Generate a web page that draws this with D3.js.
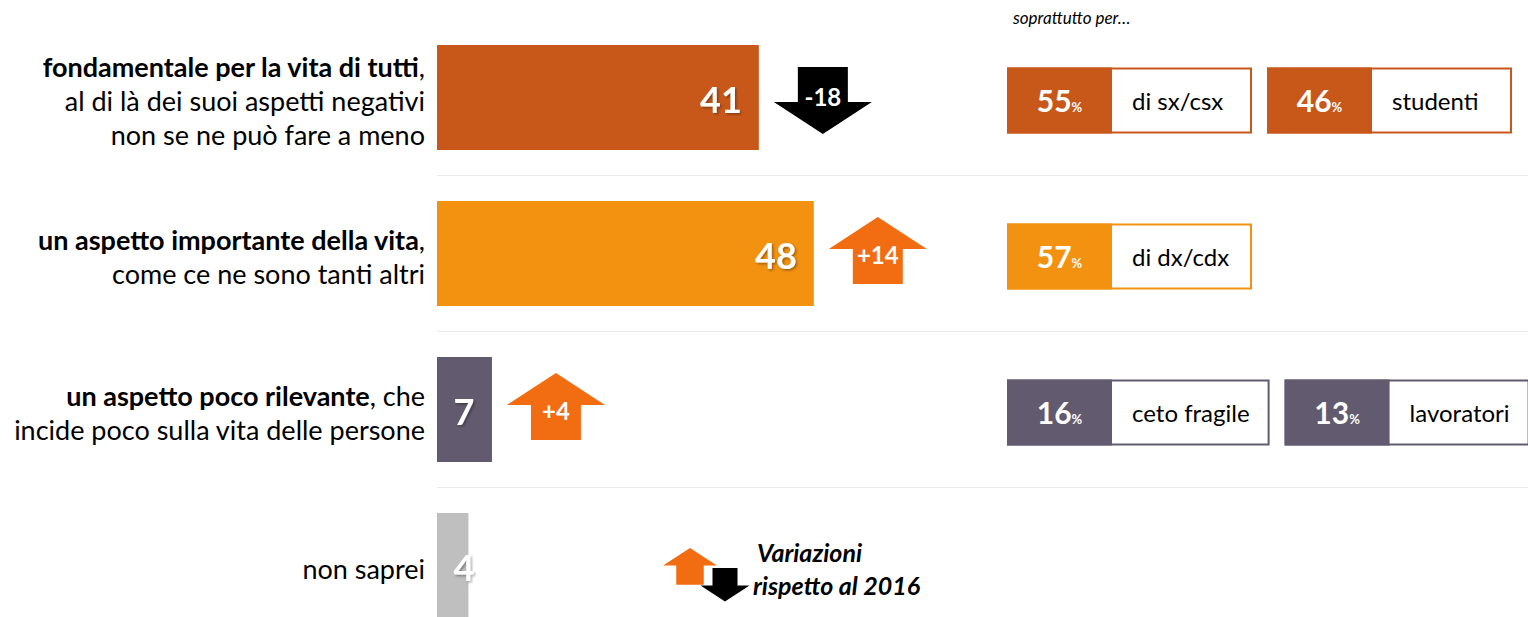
<!DOCTYPE html>
<html>
<head>
<meta charset="utf-8">
<script src="https://cdn.jsdelivr.net/npm/d3@7"></script>
<style>
  body { margin: 0; background: #fff; }
  svg { display: block; font-family: Lato, "Open Sans", sans-serif; }
</style>
</head>
<body>
<div id="viz"></div>
<script>
// categories, first line has a bold part
var categories = ['fondamentale', 'importante', 'poco rilevante', 'non saprei'];
var labelBold = ['fondamentale per la vita di tutti', 'un aspetto importante della vita', 'un aspetto poco rilevante', ''];
var labelLines = [
	[',', 'al di là dei suoi aspetti negativi', 'non se ne può fare a meno'],
	[',', 'come ce ne sono tanti altri'],
	[', che', 'incide poco sulla vita delle persone'],
	['non saprei']
];
var values = [41, 48, 7, 4];
var changes = [-18, 14, 4, null];
var groupPct = [[55, 46], [57], [16, 13], []];
var groupLabel = [['di sx/csx', 'studenti'], ['di dx/cdx'], ['ceto fragile', 'lavoratori'], []];

var barColor = d3.scaleOrdinal()
	.domain(categories)
	.range(['#C8581A', '#F39111', '#625A6E', '#BFBFBF']);

var upColor = '#F26C12',
		downColor = '#000000';

buildViz();

function buildViz(){

	var width = 1528,
			height = 617;

	var svg = d3.select('#viz')
		.append('svg')
		.attr('width', width)
		.attr('height', height);

	var defs = svg.append('defs');
	defs.append('filter')
		.attr('id', 'shadow')
		.attr('x', '-20%').attr('y', '-20%').attr('width', '140%').attr('height', '140%')
		.append('feDropShadow')
			.attr('dx', 1.5).attr('dy', 1.5)
			.attr('stdDeviation', 1)
			.attr('flood-color', '#000')
			.attr('flood-opacity', 0.35);

	var x = d3.scaleLinear()
		.domain([0, 100])
		.range([437, 437 + 785]);

	var y = d3.scaleBand()
		.domain(categories)
		.range([45, 618])
		.paddingInner(51 / 156);

	var bw = y.bandwidth(),
			gap = y.step() - bw;

	var rows = categories.map(function(c, i){
		return { cat: c, value: values[i], change: changes[i], bold: labelBold[i], lines: labelLines[i],
			pct: groupPct[i], sub: groupLabel[i] };
	});

	// separators
	svg.selectAll('.sep')
		.data(categories.slice(0, -1))
		.enter().append('line')
			.attr('x1', x(0))
			.attr('x2', width)
			.attr('y1', function(d){ return y(d) + bw + gap / 2; })
			.attr('y2', function(d){ return y(d) + bw + gap / 2; })
			.style('stroke', '#EBEBEB')
			.style('stroke-width', 1);

	// left labels
	var lineH = 34;
	var labels = svg.selectAll('.row-label')
		.data(rows)
		.enter().append('text')
			.attr('class', 'row-label')
			.attr('text-anchor', 'end')
			.style('font-size', '27px')
			.style('fill', '#000');

	labels.each(function(d){
		var t = d3.select(this);
		var n = d.lines.length;
		var cy = y(d.cat) + bw / 2 + 4;
		var first = cy - (n - 1) / 2 * lineH + 9;
		d.lines.forEach(function(line, j){
			var ts = t.append('tspan')
				.attr('x', 425)
				.attr('y', first + j * lineH);
			if (j === 0 && d.bold) {
				ts.append('tspan').style('font-weight', 'bold').text(d.bold);
				ts.append('tspan').text(line);
			} else {
				ts.text(line);
			}
		});
	});

	// bars
	svg.selectAll('.bar')
		.data(rows)
		.enter().append('rect')
			.attr('class', 'bar')
			.attr('x', x(0))
			.attr('y', function(d){ return y(d.cat); })
			.attr('width', function(d){ return x(d.value) - x(0); })
			.attr('height', bw)
			.style('fill', function(d){ return barColor(d.cat); });

	svg.selectAll('.bar-label')
		.data(rows)
		.enter().append('text')
			.attr('class', 'bar-label')
			.attr('x', function(d){ return x(d.value) - x(0) > 80 ? x(d.value) - 17 : x(0) + 27; })
			.attr('y', function(d){ return y(d.cat) + bw / 2 + 15; })
			.attr('text-anchor', function(d){ return x(d.value) - x(0) > 80 ? 'end' : 'middle'; })
			.attr('filter', 'url(#shadow)')
			.style('font-size', '36px')
			.style('font-weight', 'bold')
			.style('fill', '#fff')
			.text(function(d){ return d.value; });

	// change arrows
	var withChange = rows.filter(function(d){ return d.change !== null; });

	var arrows = svg.selectAll('.arrow')
		.data(withChange)
		.enter().append('g')
			.attr('class', 'arrow')
			.attr('transform', function(d){
				var cx = x(d.value) + 64;
				var top = y(d.cat) + bw / 2 - 33.5 + (d.change < 0 ? 3 : -3);
				return 'translate(' + cx + ',' + top + ')';
			});

	arrows.append('path')
		.attr('d', function(d){ return d.change < 0 ? arrowDown(1) : arrowUp(1); })
		.style('fill', function(d){ return d.change < 0 ? downColor : upColor; });

	arrows.append('text')
		.attr('x', 0)
		.attr('y', function(d){ return d.change < 0 ? 39 : 47; })
		.attr('text-anchor', 'middle')
		.style('font-size', '24px')
		.style('font-weight', 'bold')
		.style('fill', '#fff')
		.text(function(d){ return d.change > 0 ? '+' + d.change : d.change; });

	// "soprattutto per..." boxes
	svg.append('text')
		.attr('x', 1013)
		.attr('y', 24)
		.style('font-size', '17px')
		.style('font-style', 'italic')
		.style('fill', '#000')
		.text('soprattutto per…');

	rows.forEach(function(d){
		var bx = 1007;
		var cy = y(d.cat) + bw / 2 + 3;
		d.pct.forEach(function(p, k){
			var g = svg.append('g')
				.attr('class', 'box')
				.attr('transform', 'translate(' + bx + ',' + (cy - 33) + ')');
			var colW = 105;
			var label = g.append('text')
				.attr('x', colW + 20)
				.attr('y', 42)
				.style('font-size', '24px')
				.style('fill', '#000')
				.text(d.sub[k]);
			var whiteW = Math.max(140, label.node().getComputedTextLength() + 40);
			g.insert('rect', 'text')
				.attr('x', 1)
				.attr('y', 1)
				.attr('width', colW + whiteW - 2)
				.attr('height', 64)
				.style('fill', '#fff')
				.style('stroke', barColor(d.cat))
				.style('stroke-width', 2);
			g.insert('rect', 'text')
				.attr('x', 0)
				.attr('y', 0)
				.attr('width', colW)
				.attr('height', 66)
				.style('fill', barColor(d.cat));
			var pt = g.append('text')
				.attr('x', colW / 2)
				.attr('y', 44)
				.attr('text-anchor', 'middle')
				.style('fill', '#fff')
				.style('font-weight', 'bold');
			pt.append('tspan').style('font-size', '30px').text(p);
			pt.append('tspan').style('font-size', '13px').text('%');
			bx += colW + whiteW + 15;
		});
	});

	// legend
	var legend = svg.append('g')
		.attr('transform', 'translate(0,0)');

	legend.append('path')
		.attr('transform', 'translate(690,548)')
		.attr('d', arrowUp(0.55))
		.style('fill', upColor);

	legend.append('path')
		.attr('transform', 'translate(725,568)')
		.attr('d', arrowDown(0.5))
		.style('fill', downColor);

	legend.append('text')
		.attr('x', 757)
		.attr('y', 562)
		.style('font-size', '25px')
		.style('font-weight', 'bold')
		.style('font-style', 'italic')
		.text('Variazioni');

	legend.append('text')
		.attr('x', 753)
		.attr('y', 595)
		.style('font-size', '25px')
		.style('font-weight', 'bold')
		.style('font-style', 'italic')
		.text('rispetto al 2016');
}

// block arrows, origin at top centre
function arrowUp(s){
	var hw = 49 * s, sw = 25 * s, hh = 32 * s, h = 67 * s;
	return 'M0,0 L' + hw + ',' + hh + ' L' + sw + ',' + hh + ' L' + sw + ',' + h +
		' L' + (-sw) + ',' + h + ' L' + (-sw) + ',' + hh + ' L' + (-hw) + ',' + hh + ' Z';
}

function arrowDown(s){
	var hw = 49 * s, sw = 25 * s, hh = 35 * s, h = 67 * s;
	return 'M' + (-sw) + ',0 L' + sw + ',0 L' + sw + ',' + hh + ' L' + hw + ',' + hh +
		' L0,' + h + ' L' + (-hw) + ',' + hh + ' L' + (-sw) + ',' + hh + ' Z';
}
</script>
</body>
</html>
